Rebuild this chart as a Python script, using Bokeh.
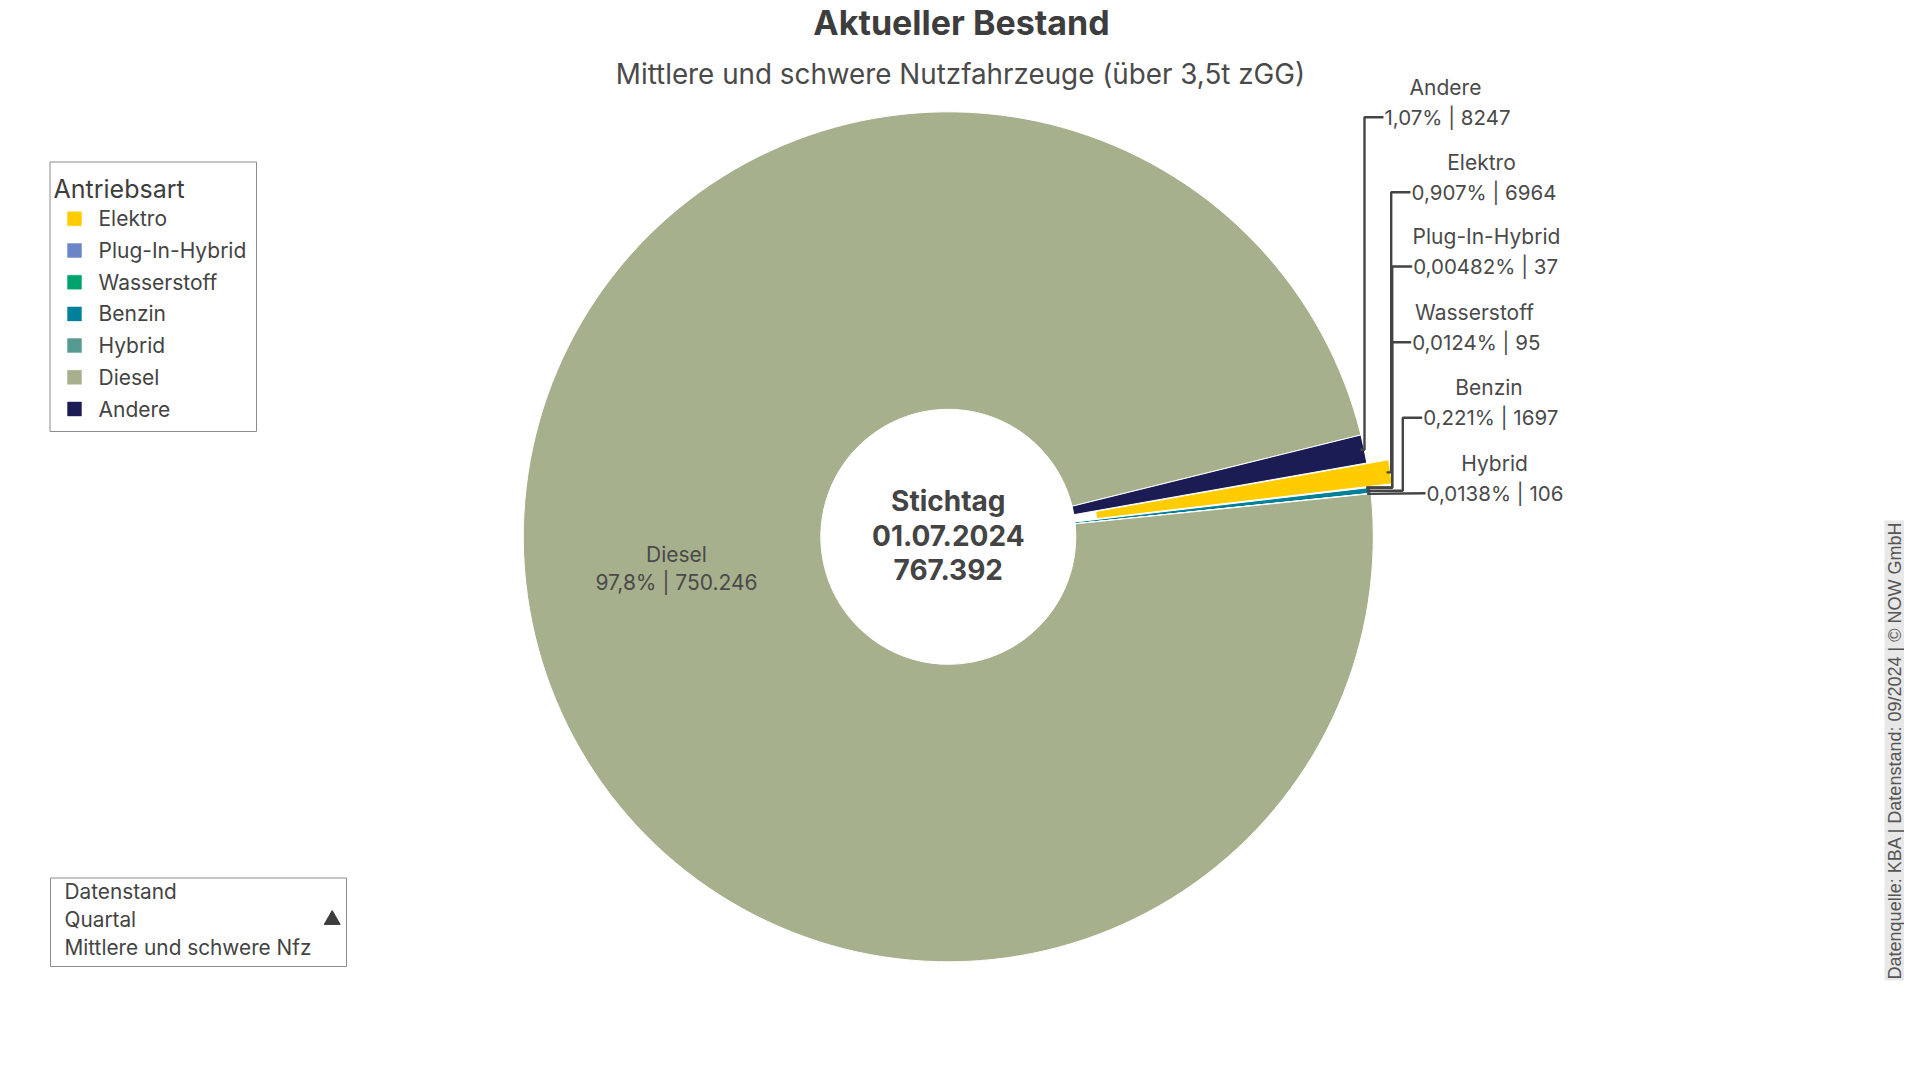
import numpy as np
from bokeh.plotting import figure
from bokeh.models import Range1d, ColumnDataSource
from bokeh.core.properties import value
from bokeh.embed import file_html
from bokeh.resources import INLINE

# ---------------- data ----------------
categories = ["Elektro", "Plug-In-Hybrid", "Wasserstoff", "Benzin", "Hybrid", "Diesel", "Andere"]
counts = [6964, 37, 95, 1697, 106, 750246, 8247]
percent_labels = ["0,907%", "0,00482%", "0,0124%", "0,221%", "0,0138%", "97,8%", "1,07%"]
count_labels = ["6964", "37", "95", "1697", "106", "750.246", "8247"]
colors = ["#ffcc00", "#6a86c8", "#00a36b", "#00809a", "#559a90", "#a6b08c", "#1c1c54"]
total_label = "767.392"
date_label = "01.07.2024"
title_text = "Aktueller Bestand"
subtitle_text = "Mittlere und schwere Nutzfahrzeuge (über 3,5t zGG)"
legend_title = "Antriebsart"
info_lines = ["Datenstand", "Quartal", "Mittlere und schwere Nfz"]
source_text = "Datenquelle: KBA | Datenstand: 09/2024 | © NOW GmbH"

# ---------------- layout ----------------
W, H = 1904, 1064
TXT = "#444444"
REG = "Inter"
BOLD = "Inter"


def P(X, Y):
    """screen pixel -> data coords"""
    return X, H - Y


p = figure(width=W, height=H, x_range=Range1d(0, W), y_range=Range1d(0, H),
           x_axis_type=None, y_axis_type=None, output_backend="svg",
           toolbar_location=None, min_border=0)
p.grid.visible = False
p.outline_line_color = None
p.background_fill_color = "white"
p.border_fill_color = "white"

# ---------------- pie ----------------
cx, cy = P(947.8, 536.3)
R_OUT, R_IN = 425, 127.5
start = np.deg2rad(10.0)
explode = {"Elektro": 22}

vals = np.array(counts, dtype=float)
frac = vals / vals.sum()
ends = start - np.concatenate([[0], np.cumsum(frac)[:-1]]) * 2 * np.pi
starts = ends - frac * 2 * np.pi
mids = (starts + ends) / 2
offs = np.array([explode.get(c, 0) for c in categories], dtype=float)
xs_c = cx + offs * np.cos(mids)
ys_c = cy + offs * np.sin(mids)

pie_src = ColumnDataSource(dict(x=xs_c, y=ys_c, s=starts, e=ends, color=colors, cat=categories))
p.annular_wedge(x="x", y="y", inner_radius=R_IN, outer_radius=R_OUT,
                start_angle="s", end_angle="e", direction="anticlock",
                fill_color="color", line_color="white", line_width=1, source=pie_src)

# center text
for txt, Y in [("Stichtag", 500.8), (date_label, 535.1), (total_label, 569.4)]:
    x0, y0 = P(947.8, Y)
    p.text(x=[x0], y=[y0], text=[txt], text_align="center", text_baseline="middle",
           text_font=value(BOLD), text_font_style="bold", text_font_size="28px", text_color=TXT)

# inside label (Diesel)
di = categories.index("Diesel")
x0, y0 = P(676, 553.5)
p.text(x=[x0], y=[y0], text=[categories[di]], text_align="center", text_baseline="middle",
       text_font=value(REG), text_font_size="21px", text_color="#4a4a4a")
x0, y0 = P(676, 581.6)
p.text(x=[x0], y=[y0], text=[f"{percent_labels[di]} | {count_labels[di]}"], text_align="center",
       text_baseline="middle", text_font=value(REG), text_font_size="21px", text_color="#4a4a4a")

# outside labels with connectors (layout positions in px)
outside = {
    "Andere": dict(y=116.7, vx=1364.0, tx=1383.0, nx=1445.0),
    "Elektro": dict(y=191.7, vx=1390.7, tx=1410.0, nx=1481.0),
    "Plug-In-Hybrid": dict(y=266.0, vx=1391.7, tx=1411.7, nx=1486.0),
    "Wasserstoff": dict(y=341.7, vx=1391.7, tx=1410.7, nx=1474.0),
    "Benzin": dict(y=417.3, vx=1402.3, tx=1421.7, nx=1488.5),
    "Hybrid": dict(y=492.7, vx=None, tx=1425.0, nx=1494.0),
}
lxs, lys = [], []
nm_x, nm_y, nm_t, vl_x, vl_y, vl_t = [], [], [], [], [], []
for name, lay in outside.items():
    i = categories.index(name)
    r = R_OUT - 4
    px = xs_c[i] + r * np.cos(mids[i])
    py = ys_c[i] + r * np.sin(mids[i])
    _, ly = P(0, lay["y"])
    tx, _ = P(lay["tx"], 0)
    if lay["vx"] is not None:
        vx, _ = P(lay["vx"], 0)
        lxs.append([px, vx, vx, tx])
        lys.append([py, py, ly, ly])
    else:
        lxs.append([px, tx])
        lys.append([py, ly])
    nx, ny = P(lay["nx"], lay["y"] - 30)
    nm_x.append(nx); nm_y.append(ny); nm_t.append(name)
    vl_x.append(tx + 1); vl_y.append(ly); vl_t.append(f"{percent_labels[i]} | {count_labels[i]}")

p.multi_line(xs=lxs, ys=lys, line_color="#444444", line_width=2.4)
p.text(x=nm_x, y=nm_y, text=nm_t, text_align="center", text_baseline="middle",
       text_font=value(REG), text_font_size="21px", text_color="#4a4a4a")
p.text(x=vl_x, y=vl_y, text=vl_t, text_align="left", text_baseline="middle",
       text_font=value(REG), text_font_size="20.5px", text_color="#4a4a4a")

# ---------------- titles ----------------
x0, y0 = P(961, 22)
p.text(x=[x0], y=[y0], text=[title_text], text_align="center", text_baseline="middle",
       text_font=value(BOLD), text_font_style="bold", text_font_size="34px", text_color="#3d3d3d")
x0, y0 = P(960, 73.5)
p.text(x=[x0], y=[y0], text=[subtitle_text], text_align="center", text_baseline="middle",
       text_font=value(REG), text_font_size="27.8px", text_color="#4a4a4a")

# ---------------- legend ----------------
l, t = P(49.5, 161.5)
r, b = P(256, 431)
p.quad(left=[l], right=[r], top=[t], bottom=[b], fill_color="white", line_color="#8c8c8c", line_width=1)
x0, y0 = P(53, 188.5)
p.text(x=[x0], y=[y0], text=[legend_title], text_align="left", text_baseline="middle",
       text_font=value(REG), text_font_size="25px", text_color="#3d3d3d")
lg_y = [P(0, 218.3 + k * 31.7)[1] for k in range(len(categories))]
sq_x = [P(74, 0)[0]] * len(categories)
p.rect(x=sq_x, y=lg_y, width=14, height=14, fill_color=colors, line_color=colors, line_alpha=0.4)
p.text(x=[P(98, 0)[0]] * len(categories), y=lg_y, text=categories, text_align="left",
       text_baseline="middle", text_font=value(REG), text_font_size="21px", text_color="#444444")

# ---------------- info box ----------------
l, t = P(50, 877.5)
r, b = P(346, 966)
p.quad(left=[l], right=[r], top=[t], bottom=[b], fill_color="white", line_color="#8c8c8c", line_width=1)
for k, txt in enumerate(info_lines):
    x0, y0 = P(64, 890.7 + k * 28.3)
    p.text(x=[x0], y=[y0], text=[txt], text_align="left", text_baseline="middle",
           text_font=value(REG), text_font_size="20.8px", text_color="#444444")
x0, y0 = P(331.7, 919.3)
p.scatter(x=[x0], y=[y0], marker="triangle", size=16, fill_color="#3d3d3d", line_color="#3d3d3d")

# ---------------- source note ----------------
l, t = P(1884, 520)
r, b = P(1904, 980)
p.quad(left=[l], right=[r], top=[t], bottom=[b], fill_color="#e8e8e8", line_color=None)
x0, y0 = P(1894.5, 750)
p.text(x=[x0], y=[y0], text=[source_text], angle=np.pi / 2, text_align="center",
       text_baseline="middle", text_font=value("Liberation Sans"), text_font_size="18px",
       text_color="#555555")

open("out.html", "w").write(file_html(p, INLINE))
